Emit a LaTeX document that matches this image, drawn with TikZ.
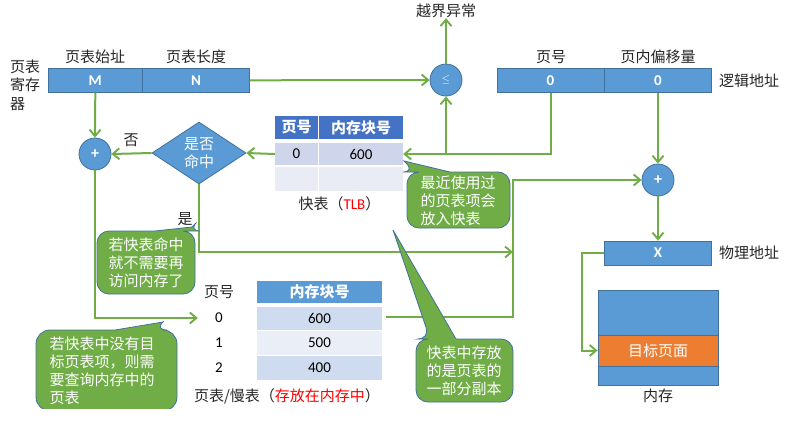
\documentclass[tikz,border=0pt]{standalone}
\usepackage{fontspec}
\setmainfont{Noto Sans CJK SC}
\newfontfamily\latinf{Carlito}
\usetikzlibrary{arrows.meta,shapes.geometric}
\definecolor{regblue}{HTML}{5B9BD5}
\definecolor{edgeblue}{HTML}{41719C}
\definecolor{tlbhead}{HTML}{4472C4}
\definecolor{tlbdark}{HTML}{CFD5EA}
\definecolor{tlblight}{HTML}{E9EBF5}
\definecolor{ptdark}{HTML}{CFDBEE}
\definecolor{ptlight}{HTML}{E9EEF7}
\definecolor{flowgreen}{HTML}{70AD47}
\definecolor{pageorange}{HTML}{ED7D31}
\tikzset{
  lbl/.style={inner sep=0pt,font=\fontsize{15}{18.5}\selectfont,align=left,text=black!85},
  regbox/.style={rectangle,draw=edgeblue,fill=regblue,text=white,inner sep=0pt,
    minimum height=24pt,line width=0.8pt,font=\fontsize{15}{18}\latinf\bfseries},
  opnode/.style={circle,draw=edgeblue,fill=regblue,text=white,inner sep=0pt,
    minimum size=32pt,line width=0.8pt,font=\fontsize{16}{18}\latinf\bfseries},
  judge/.style={diamond,aspect=1.5,draw=edgeblue,fill=regblue,text=white,inner sep=0pt,
    minimum width=94pt,minimum height=62pt,line width=0.8pt,align=center,
    font=\fontsize{15}{18}\selectfont},
  tcell/.style={rectangle,inner sep=0pt,text=black,font=\fontsize{15}{18}\latinf},
  thead/.style={rectangle,inner sep=0pt,text=white,font=\fontsize{15}{18}\selectfont\bfseries},
  flow/.style={-{Straight Barb[length=6.5pt,width=11pt,line width=1.9pt]},line width=2pt,color=flowgreen},
  callshape/.style={draw=edgeblue,fill=flowgreen,line width=0.8pt},
  calltext/.style={inner sep=0pt,text=white,align=left,font=\fontsize{15}{18.2}\selectfont},
}
\begin{document}
\begin{tikzpicture}[x=1pt,y=-1pt]
  \useasboundingbox (0,0) rectangle (801,426);
  % registers
  \node[regbox,minimum width=94pt] (regm) at (95.3,80.3){M};
  \node[regbox,minimum width=107.4pt] (regn) at (196,80.3){N};
  \node[regbox,minimum width=107pt] (regp) at (550.5,80.3){0};
  \node[regbox,minimum width=107.4pt] (regw) at (658,80.3){0};
  \node[regbox,minimum width=107.4pt] (regx) at (658,253){X};
  \node[lbl] (lblm) at (95,57){页表始址}; \node[lbl] (lbln) at (196,57){页表长度};
  \node[lbl] (lblp) at (551,57){页号}; \node[lbl] (lblw) at (658,57){页内偏移量};
  \node[lbl] (lblreg) at (25,85){页表\\寄存\\器};
  \node[lbl] (lbllog) at (749,81){逻辑地址}; \node[lbl] (lblphy) at (749,253){物理地址};
  \node[lbl] (exc) at (446,11){越界异常};
  % adders and the hit test
  \node[opnode] (addl) at (95,154){+};
  \node[opnode,font=\fontsize{11}{13}\selectfont] (leq) at (446,80){$\leq$};
  \node[opnode] (addr) at (658,180){+};
  \node[judge] (hit) at (199,153){是否\\命中};
  \node[lbl] (lblno) at (131,140){否}; \node[lbl] (lblyes) at (185,219){是};
  % TLB
  \node[thead,fill=tlbhead,minimum width=43pt,minimum height=23pt] (th1) at (296.5,127.5){页号};
  \node[thead,fill=tlbhead,minimum width=84pt,minimum height=23pt] (th2) at (361,127.5){内存块号};
  \node[tcell,fill=tlbdark,minimum width=43pt,minimum height=22pt] (tz) at (296.5,154){0};
  \node[tcell,fill=tlbdark,minimum width=84pt,minimum height=22pt] (tv) at (361,154){600};
  \node[tcell,fill=tlblight,minimum width=43pt,minimum height=24pt] (te1) at (296.5,179){};
  \node[tcell,fill=tlblight,minimum width=84pt,minimum height=24pt] (te2) at (361,179){};
  \node[lbl] (lbltlb) at (339.5,204){快表（{\latinf\color{red}TLB}）};
  % page table
  \node[lbl] (ph1) at (219,292){页号};
  \node[tcell,minimum width=42pt] (pn0) at (219,318){0};
  \node[tcell,minimum width=42pt] (pn1) at (219,343){1};
  \node[tcell,minimum width=42pt] (pn2) at (219,368){2};
  \node[thead,fill=regblue,minimum width=125pt,minimum height=22pt] (ph2) at (319.5,292){内存块号};
  \node[tcell,fill=ptdark,minimum width=125pt,minimum height=23pt] (pv0) at (319.5,318.5){600};
  \node[tcell,fill=ptlight,minimum width=125pt,minimum height=24pt] (pv1) at (319.5,343){500};
  \node[tcell,fill=ptdark,minimum width=125pt,minimum height=24pt] (pv2) at (319.5,368){400};
  \node[lbl] (lblpt) at (287,396){页表/慢表（{\color{red}存放在内存中}）};
  % main memory
  \node[regbox,minimum width=120pt,minimum height=95pt] (mem) at (658,337.5){};
  \node[regbox,fill=pageorange,minimum width=120pt,minimum height=31pt,
    font=\fontsize{15}{18}\selectfont] (page) at (658,350.5){目标页面};
  \node[lbl] (lblmem) at (658,396){内存};
  % connectors
  \coordinate (jleq) at (446,153.5); \coordinate (jadd) at (513,180);
  \coordinate (jhit) at (513,252); \coordinate (ptout) at (386,317);
  \coordinate (jx) at (582,253);
  \draw[flow] (regn.east)--(leq.west); \draw[flow] (leq.north)--(exc.south);
  \draw[flow] (regp.south)|-(tv.east); \draw[flow] (jleq)--(leq.south);
  \draw[flow] (regw.south)--(addr.north); \draw[flow] (addr.south)--(regx.north);
  \draw[flow] (regm.south)--(addl.north); \draw[flow] (tz.west)--(hit.east);
  \draw[flow] (hit.west)--(addl.east); \draw[flow] (addl.south)|-(pn0.west);
  \draw[flow] (hit.south)|-(jhit);
  \draw[flow] (ptout)-|(jadd)--(addr.west);
  \draw[flow] (regx.west)--(jx)|-(page.west);
  % callouts
  \draw[callshape] (404,161)--(450,172)[rounded corners=12pt]--(510,172)--(510,228)--(407,228)--(407,172)--(415,172)[sharp corners]--cycle;
  \node[calltext] (notea) at (458,201){最近使用过\\的页表项会\\放入快表};
  \draw[callshape] (192,227)--(155,231)[rounded corners=12pt]--(97,231)--(97,294)--(195,294)--(195,231)--(188,231)[sharp corners]--cycle;
  \node[calltext] (noteb) at (146,263){若快表命中\\就不需要再\\访问内存了};
  \begin{scope}
    \clip (30,318) rectangle (185,408);
    \draw[callshape] (163,322)--(115,330)[rounded corners=14pt]--(36,330)--(36,411)--(177,411)--(177,330)--(153,330)[sharp corners]--cycle;
  \end{scope}
  \node[calltext] (notec) at (102,371){若快表中没有目\\标页表项，则需\\要查询内存中的\\页表};
  \draw[callshape] (393,230)--(456,339)[rounded corners=12pt]--(513,339)--(513,402)--(416,402)--(416,339)--(430,339)[sharp corners]--cycle;
  \node[calltext] (noted) at (464,371){快表中存放\\的是页表的\\一部分副本};
\end{tikzpicture}
\end{document}
